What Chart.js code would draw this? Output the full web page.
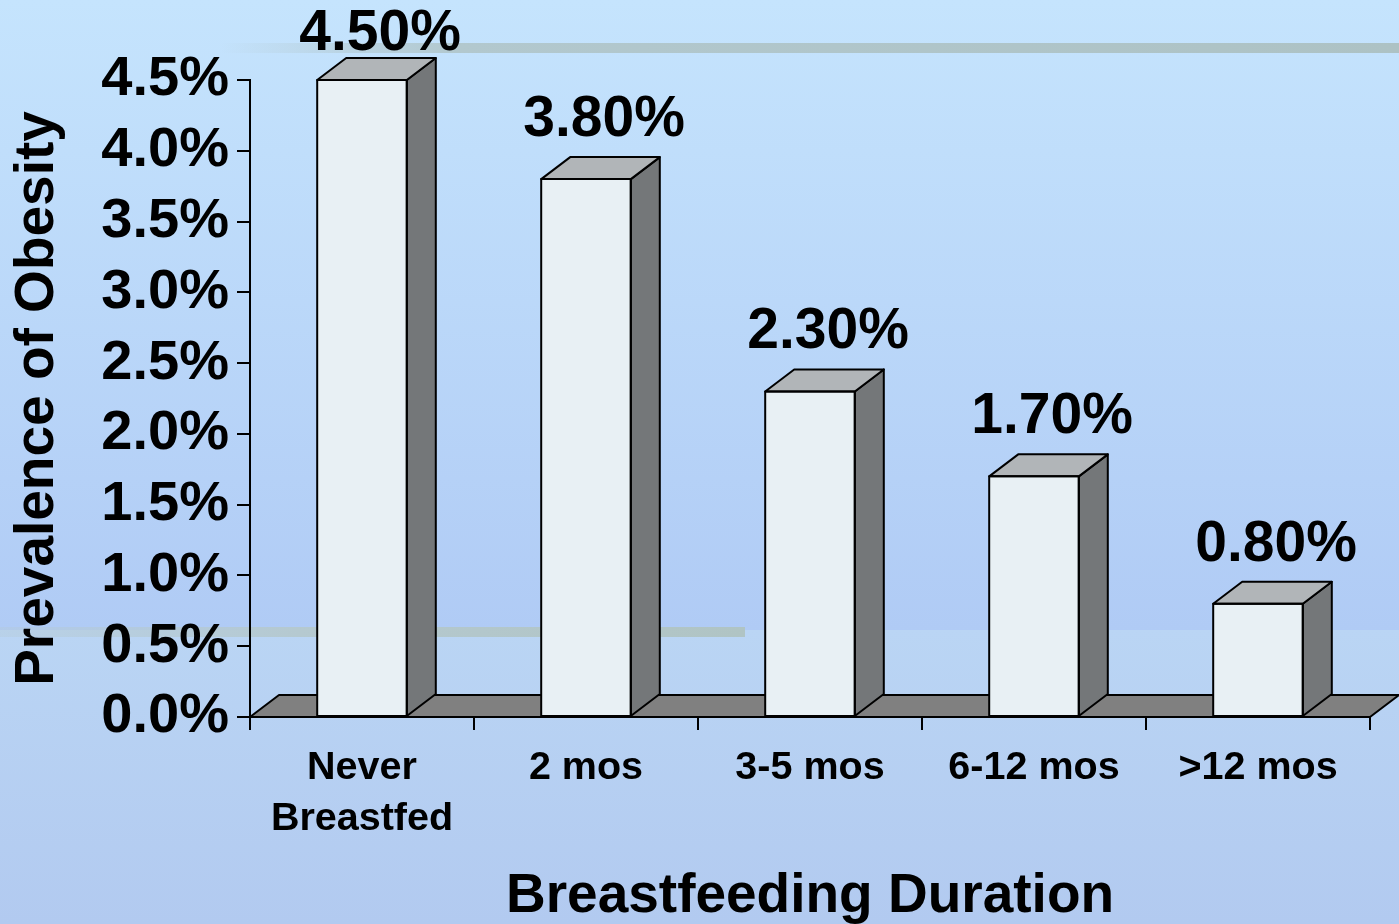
<!DOCTYPE html>
<html>
<head>
<meta charset="utf-8">
<script src="https://cdn.jsdelivr.net/npm/chart.js@4/dist/chart.umd.min.js"></script>
<style>
  html, body { margin: 0; padding: 0; width: 1399px; height: 924px; overflow: hidden; }
  #wrap { position: relative; width: 1399px; height: 924px; }
  canvas { display: block; }
</style>
</head>
<body>
<div id="wrap"><canvas id="c" width="1399" height="924"></canvas></div>
<script>
// ---- data ----
const categories = [["Never", "Breastfed"], "2 mos", "3-5 mos", "6-12 mos", ">12 mos"];
const prevalence = [4.5, 3.8, 2.3, 1.7, 0.8];
const valueLabels = ["4.50%", "3.80%", "2.30%", "1.70%", "0.80%"];
const yTickLabels = ["0.0%", "0.5%", "1.0%", "1.5%", "2.0%", "2.5%", "3.0%", "3.5%", "4.0%", "4.5%"];
const yAxisTitle = "Prevalence of Obesity";
const xAxisTitle = "Breastfeeding Duration";

// ---- style ----
const FONT = "'Liberation Sans', Arial, sans-serif";
const DX = 29, DY = 22; // 3D depth
const FRONT = '#e8f0f4', SIDE = '#747779', TOP = '#b1b5b8', FLOOR = '#808080';

const background = {
  id: 'background',
  beforeDraw(chart) {
    const ctx = chart.ctx, W = chart.width, H = chart.height;
    ctx.save();
    let g = ctx.createLinearGradient(0, 0, 0, 630);
    g.addColorStop(0, '#c5e4fd');
    g.addColorStop(1, '#b0cbf5');
    ctx.fillStyle = g;
    ctx.fillRect(0, 0, W, 630);
    g = ctx.createLinearGradient(0, 630, 0, H);
    g.addColorStop(0, '#bad5f4');
    g.addColorStop(1, '#b2caf0');
    ctx.fillStyle = g;
    ctx.fillRect(0, 630, W, H - 630);
    // decorative bands
    g = ctx.createLinearGradient(220, 0, W, 0);
    g.addColorStop(0, 'rgba(178,200,206,0)');
    g.addColorStop(0.2, 'rgba(178,200,206,1)');
    g.addColorStop(1, 'rgba(173,194,196,1)');
    ctx.fillStyle = g;
    ctx.fillRect(0, 43, W, 10);
    g = ctx.createLinearGradient(0, 0, 745, 0);
    g.addColorStop(0, 'rgba(181,201,208,0.3)');
    g.addColorStop(0.4, 'rgba(181,201,208,1)');
    g.addColorStop(1, 'rgba(176,196,196,1)');
    ctx.fillStyle = g;
    ctx.fillRect(0, 627, 745, 10);
    ctx.restore();
  }
};

const floor3d = {
  id: 'floor3d',
  beforeDatasetsDraw(chart) {
    const ctx = chart.ctx, a = chart.chartArea;
    const y0 = chart.scales.y.getPixelForValue(0);
    ctx.save();
    ctx.beginPath();
    ctx.moveTo(a.left, y0);
    ctx.lineTo(a.right, y0);
    ctx.lineTo(a.right + DX, y0 - DY);
    ctx.lineTo(a.left + DX, y0 - DY);
    ctx.closePath();
    ctx.fillStyle = FLOOR;
    ctx.fill();
    ctx.lineWidth = 2;
    ctx.strokeStyle = '#000';
    ctx.lineJoin = 'round';
    ctx.stroke();
    ctx.restore();
  },
  afterDatasetsDraw(chart) {
    const ctx = chart.ctx;
    const meta = chart.getDatasetMeta(0);
    ctx.save();
    ctx.lineWidth = 2;
    ctx.strokeStyle = '#000';
    ctx.lineJoin = 'round';
    meta.data.forEach((bar, i) => {
      const p = bar.getProps(['x', 'y', 'base', 'width'], true);
      const l = p.x - p.width / 2, r = p.x + p.width / 2, t = p.y, b = p.base;
      // side
      ctx.beginPath();
      ctx.moveTo(r, t); ctx.lineTo(r + DX, t - DY); ctx.lineTo(r + DX, b - DY); ctx.lineTo(r, b);
      ctx.closePath();
      ctx.fillStyle = SIDE; ctx.fill(); ctx.stroke();
      // top
      ctx.beginPath();
      ctx.moveTo(l, t); ctx.lineTo(l + DX, t - DY); ctx.lineTo(r + DX, t - DY); ctx.lineTo(r, t);
      ctx.closePath();
      ctx.fillStyle = TOP; ctx.fill(); ctx.stroke();
      // front outline
      ctx.strokeRect(l, t, r - l, b - t);
    });
    // value labels
    ctx.fillStyle = '#000';
    ctx.font = "bold 57px " + FONT;
    ctx.textAlign = 'center';
    ctx.textBaseline = 'alphabetic';
    meta.data.forEach((bar, i) => {
      const p = bar.getProps(['x', 'y'], true);
      const yb = Math.max(p.y - 43, 50);
      ctx.fillText(valueLabels[i], p.x + 18, yb);
    });
    ctx.restore();
  }
};

new Chart(document.getElementById('c'), {
  type: 'bar',
  data: {
    labels: categories,
    datasets: [{
      data: prevalence,
      backgroundColor: FRONT,
      borderWidth: 0,
      barPercentage: 0.4,
      categoryPercentage: 1.0
    }]
  },
  options: {
    responsive: false,
    animation: false,
    events: [],
    layout: { padding: { top: 80, right: 29, left: 0, bottom: 0 } },
    plugins: { legend: { display: false }, tooltip: { enabled: false } },
    scales: {
      x: {
        afterFit(s) { s.height = 207; },
        grid: { display: true, drawOnChartArea: false, drawTicks: true, tickLength: 13, color: '#000', lineWidth: 2, offset: true },
        border: { display: true, color: '#000', width: 2 },
        ticks: { color: '#000', padding: 13, font: { family: FONT, size: 39.5, weight: 'bold', lineHeight: 1.29 }, maxRotation: 0 },
        title: { display: true, text: xAxisTitle, color: '#000', font: { family: FONT, size: 55, weight: 'bold', lineHeight: 1.0 }, padding: 0 }
      },
      y: {
        min: 0, max: 4.5,
        afterFit(s) { s.width = 250; },
        grid: { display: true, drawOnChartArea: false, drawTicks: true, tickLength: 13, color: '#000', lineWidth: 2 },
        border: { display: true, color: '#000', width: 2 },
        ticks: {
          stepSize: 0.5, color: '#000', padding: 8,
          font: { family: FONT, size: 56, weight: 'bold' },
          callback(v, i) { return yTickLabels[i]; }
        },
        title: { display: true, text: yAxisTitle, color: '#000', font: { family: FONT, size: 55, weight: 'bold', lineHeight: 1.2 }, padding: { top: 5, bottom: 0 } }
      }
    }
  },
  plugins: [background, floor3d]
});
</script>
</body>
</html>
